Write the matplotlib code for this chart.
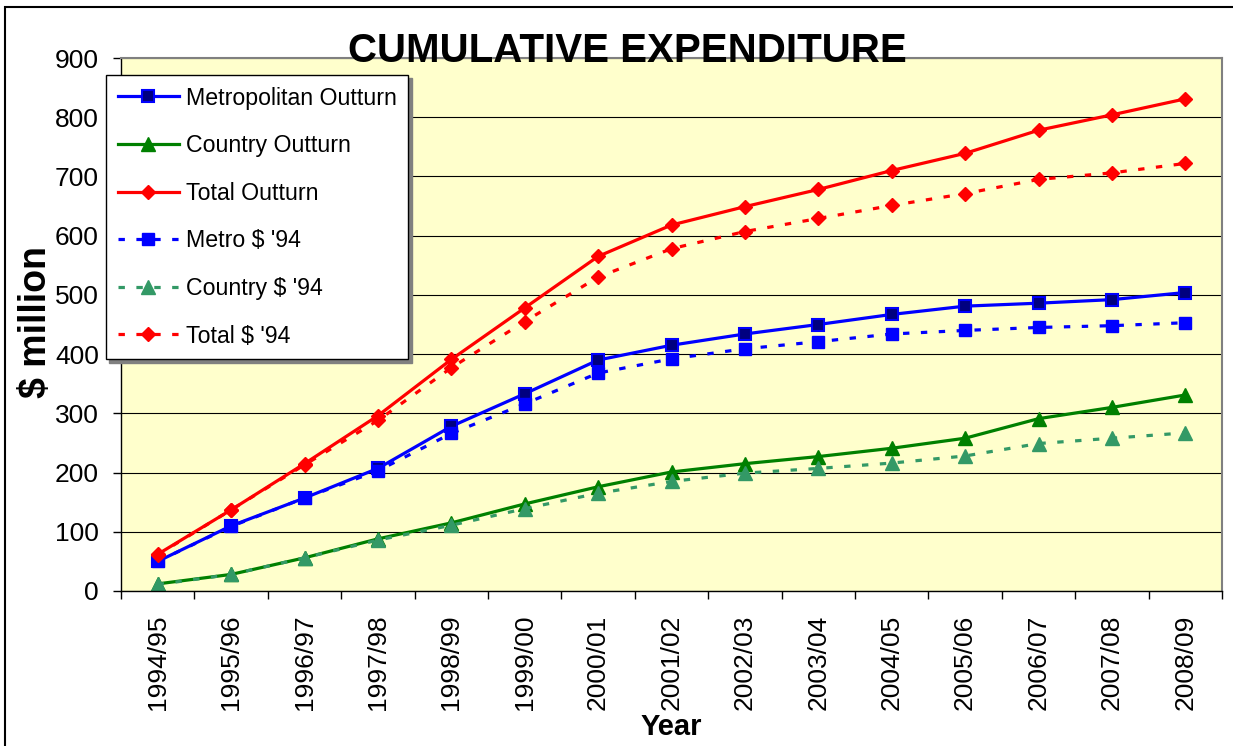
#!/usr/bin/env python3
"""Cumulative expenditure: outturn vs 1994 dollars, metro / country / total."""
import numpy as np
import matplotlib
matplotlib.use("Agg")
import matplotlib.pyplot as plt
from matplotlib.patches import Rectangle

FONT = ["Liberation Sans", "DejaVu Sans"]

years = ["1994/95", "1995/96", "1996/97", "1997/98", "1998/99", "1999/00",
         "2000/01", "2001/02", "2002/03", "2003/04", "2004/05", "2005/06",
         "2006/07", "2007/08", "2008/09"]

metro_outturn = [50, 110, 157, 207, 278, 333, 390, 415, 434, 450, 467, 481, 486, 492, 504]
country_outturn = [12, 28, 56, 88, 115, 147, 176, 201, 215, 227, 241, 258, 291, 310, 331]
total_outturn = [62, 137, 215, 296, 391, 478, 565, 618, 649, 678, 710, 739, 778, 804, 831]
metro_94 = [50, 109, 157, 203, 266, 316, 368, 392, 409, 421, 434, 440, 445, 448, 453]
country_94 = [11, 28, 56, 86, 111, 139, 165, 185, 199, 207, 216, 228, 249, 258, 267]
total_94 = [61, 137, 213, 288, 377, 455, 530, 578, 607, 629, 651, 671, 695, 706, 722]

plt.rcParams.update({
    "font.family": FONT,
    "font.size": 18,
})


def main():
    fig = plt.figure(figsize=(12.33, 7.46), dpi=100)
    ax = fig.add_axes([121 / 1233, 1 - 591 / 746, 1101 / 1233, 533 / 746])
    ax.set_facecolor("#FFFFCC")

    x = np.arange(len(years))
    dash = (0, (2.0, 3.6))
    lw = 2.3
    ax.plot(x, metro_outturn, color="#0000FF", lw=lw, marker="s", ms=8.5,
            mfc="#000080", mec="#0000FF", mew=1.5, label="Metropolitan Outturn")
    ax.plot(x, country_outturn, color="#008000", lw=lw, marker="^", ms=10,
            mfc="#008000", mec="#008000", label="Country Outturn")
    ax.plot(x, total_outturn, color="#FF0000", lw=lw, marker="D", ms=7.5,
            mfc="#FF0000", mec="#FF0000", label="Total Outturn")
    ax.plot(x, metro_94, color="#0000FF", lw=lw, ls=dash, marker="s", ms=8.5,
            mfc="#0000FF", mec="#0000FF", label="Metro $ '94")
    ax.plot(x, country_94, color="#339966", lw=lw, ls=dash, marker="^", ms=10,
            mfc="#339966", mec="#339966", label="Country $ '94")
    ax.plot(x, total_94, color="#FF0000", lw=lw, ls=dash, marker="D", ms=7.5,
            mfc="#FF0000", mec="#FF0000", label="Total $ '94")

    ax.set_xlim(-0.5, len(years) - 0.5)
    ax.set_ylim(0, 900)
    ax.set_yticks(np.arange(0, 901, 100))
    ax.yaxis.grid(True, color="black", lw=0.8)
    ax.set_axisbelow(True)
    ax.tick_params(axis="y", length=6, width=1, pad=10, labelsize=19)

    ax.set_xticks(np.arange(-0.5, len(years), 1))
    ax.set_xticklabels([])
    ax.set_xticks(x, minor=True)
    ax.set_xticklabels(years, minor=True, rotation=90, fontsize=19, va="top")
    ax.tick_params(axis="x", which="major", length=6, width=1)
    ax.tick_params(axis="x", which="minor", length=0, pad=17)

    for side in ("top", "right"):
        ax.spines[side].set_color("#808080")
        ax.spines[side].set_linewidth(1.5)
    for side in ("left", "bottom"):
        ax.spines[side].set_color("black")
        ax.spines[side].set_linewidth(1)

    fig.text(627 / 1233, 1 - 62 / 746, "CUMULATIVE EXPENDITURE", ha="center",
             va="baseline", fontsize=29, fontweight="bold")
    fig.text(36 / 1233, 1 - 322 / 746, "$ million", rotation=90, ha="center",
             va="center", fontsize=27, fontweight="bold")
    fig.text(671 / 1233, 1 - 735 / 746, "Year", ha="center", va="baseline",
             fontsize=21, fontweight="bold")

    leg = ax.legend(loc="upper left", bbox_to_anchor=(106 / 1233, 1 - 75 / 746),
                    bbox_transform=fig.transFigure, fancybox=False,
                    edgecolor="black", framealpha=1, fontsize=16.7,
                    handlelength=2.65, handletextpad=0.3, labelspacing=1.06,
                    borderpad=0.5, borderaxespad=0,
                    shadow={"color": "#808080", "alpha": 1, "ox": 2.5, "oy": -2.5})
    leg.get_frame().set_linewidth(1)

    fig.patches.append(Rectangle((5 / 1233, -0.01), 1.02, 1.01 - 7 / 746,
                                 transform=fig.transFigure, fill=False,
                                 edgecolor="black", lw=1.5))

    fig.savefig("out.png", dpi=100)
    plt.close(fig)


if __name__ == "__main__":
    main()
